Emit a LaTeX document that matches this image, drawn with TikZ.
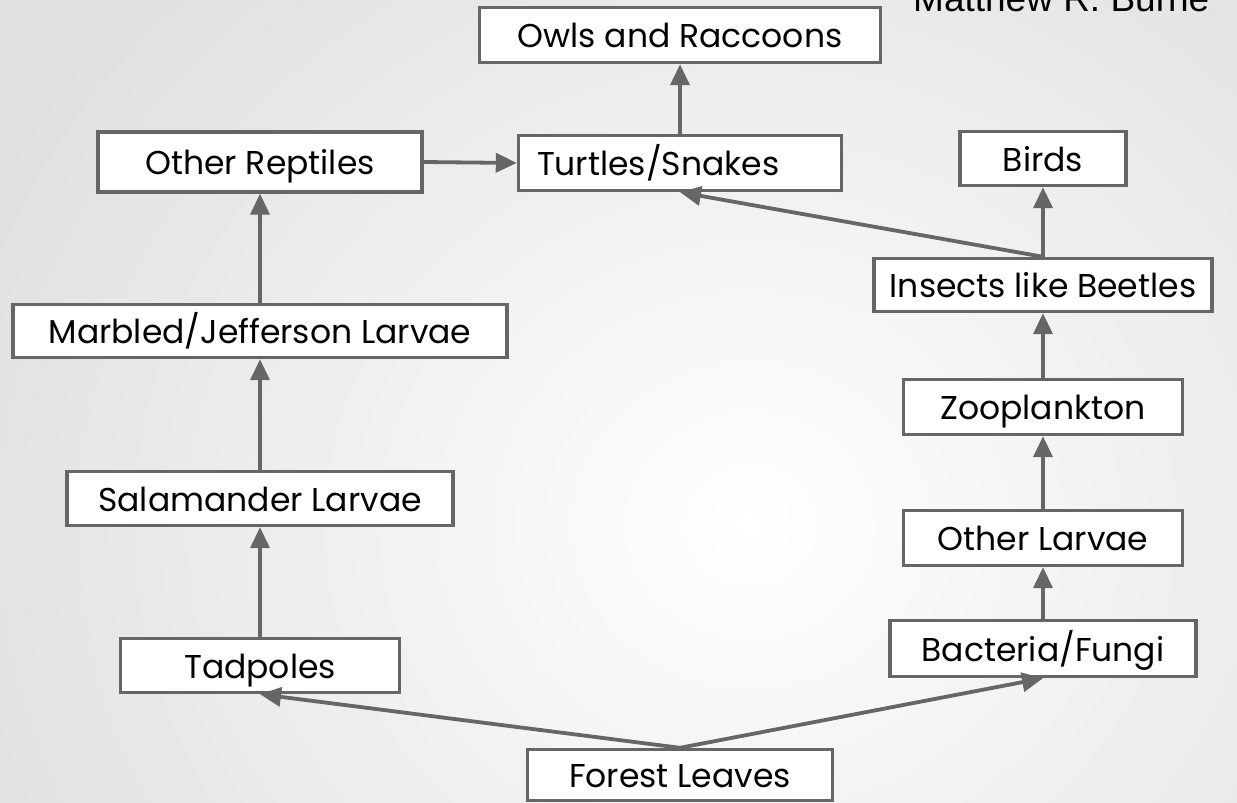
\documentclass[tikz,border=0pt]{standalone}
\usepackage{fontspec}
\setmainfont{Poppins}
\newfontfamily\titlefont{Liberation Sans}
\usetikzlibrary{arrows.meta}
\definecolor{edgegray}{RGB}{102,102,102}
\definecolor{bggray}{RGB}{224,224,224}
\tikzset{
  foodbox/.style={draw=edgegray, line width=3.4pt, fill=white, inner sep=0pt,
    font=\fontsize{33}{38}\selectfont, text=black, text height=28pt, text depth=3pt},
  feeds/.style={draw=edgegray, line width=3.8pt,
    -{Triangle[length=21pt,width=19pt]}},
}
\begin{document}
\begin{tikzpicture}[x=1pt,y=-1pt]
\clip (0,0) rectangle (1237,803);
\shade[inner color=white, outer color=bggray] (-100,-250) rectangle (1600,1300);
\node[anchor=base west, font=\titlefont\fontsize{37}{40}\selectfont, text=black, inner sep=0pt] (author) at (913,11) {Matthew R. Burne};

\node[foodbox, minimum width=401pt, minimum height=55pt] (owls) at (680,35) {Owls and Raccoons};
\node[foodbox, minimum width=323pt, minimum height=55pt, text width=286pt, align=left] (turtles) at (680,163) {Turtles/Snakes};
\node[foodbox, minimum width=324pt, minimum height=60pt] (reptiles) at (260,162) {Other Reptiles};
\node[foodbox, minimum width=166pt, minimum height=54pt] (birds) at (1043,158.5) {Birds};
\node[foodbox, minimum width=338pt, minimum height=53pt] (insects) at (1043,285) {Insects like Beetles};
\node[foodbox, minimum width=494pt, minimum height=53pt] (marbled) at (260,331) {Marbled/Jefferson Larvae};
\node[foodbox, minimum width=386pt, minimum height=54pt] (salamander) at (260,498.5) {Salamander Larvae};
\node[foodbox, minimum width=279pt, minimum height=54pt] (tadpoles) at (260,665.5) {Tadpoles};
\node[foodbox, minimum width=279pt, minimum height=55pt] (zoo) at (1043,407) {Zooplankton};
\node[foodbox, minimum width=279pt, minimum height=55pt] (olarvae) at (1043,538) {Other Larvae};
\node[foodbox, minimum width=306pt, minimum height=56pt] (bacteria) at (1043,648.5) {Bacteria/Fungi};
\node[foodbox, minimum width=305pt, minimum height=51pt] (forest) at (680,775) {Forest Leaves};

\draw[feeds] (turtles.north) -- (owls.south);
\draw[feeds] (reptiles.east) -- (turtles.west);
\draw[feeds] (marbled.north) -- (reptiles.south);
\draw[feeds] (salamander.north) -- (marbled.south);
\draw[feeds] (tadpoles.north) -- (salamander.south);
\draw[feeds] (forest.north) -- (tadpoles.south);
\draw[feeds] (forest.north) -- (bacteria.south);
\draw[feeds] (bacteria.north) -- (olarvae.south);
\draw[feeds] (olarvae.north) -- (zoo.south);
\draw[feeds] (zoo.north) -- (insects.south);
\draw[feeds] (insects.north) -- (birds.south);
\draw[feeds] (insects.north) -- (turtles.south);
\end{tikzpicture}
\end{document}
